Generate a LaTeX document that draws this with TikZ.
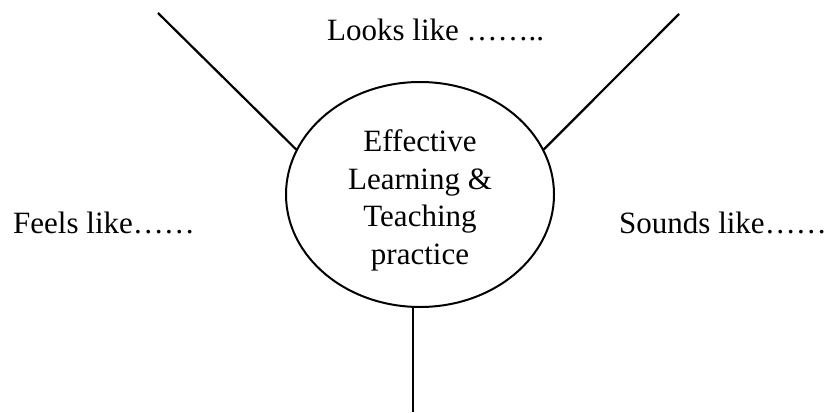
\documentclass[tikz,border=0pt]{standalone}
\usepackage{fontspec}
\setmainfont{Liberation Serif}
\usetikzlibrary{shapes.geometric}
\begin{document}
\begin{tikzpicture}[x=1pt,y=-1pt,
  hub/.style={draw, ellipse, line width=2pt, minimum width=268pt,
    minimum height=225pt, inner sep=0pt, align=center,
    font=\fontsize{31}{37.5}\selectfont},
  spoke/.style={line width=2.2pt},
  caption/.style={anchor=base west, inner sep=0pt,
    font=\fontsize{31}{37}\selectfont}]
\useasboundingbox (0,0) rectangle (832,412);

% central ellipse (strut on the first line lowers the text block a little)
\node[hub] (core) at (420,194.5)
  {\rule{0pt}{34pt}Effective\\Learning \&\\Teaching\\practice};

% free ends of the three spokes
\coordinate (tl) at (158,13);
\coordinate (tr) at (679,14);
\coordinate (bot) at (413,412);

\draw[spoke] (tl) -- (core.160.7);
\draw[spoke] (tr) -- (core.20.4);
\draw[spoke] (bot) -- (bot |- core.south);

% captions around the ellipse
\node[caption] (looks) at (327,41) {Looks like ……..};
\node[caption] (feels) at (13,233) {Feels like……};
\node[caption] (sounds) at (619,233) {Sounds like……};
\end{tikzpicture}
\end{document}
